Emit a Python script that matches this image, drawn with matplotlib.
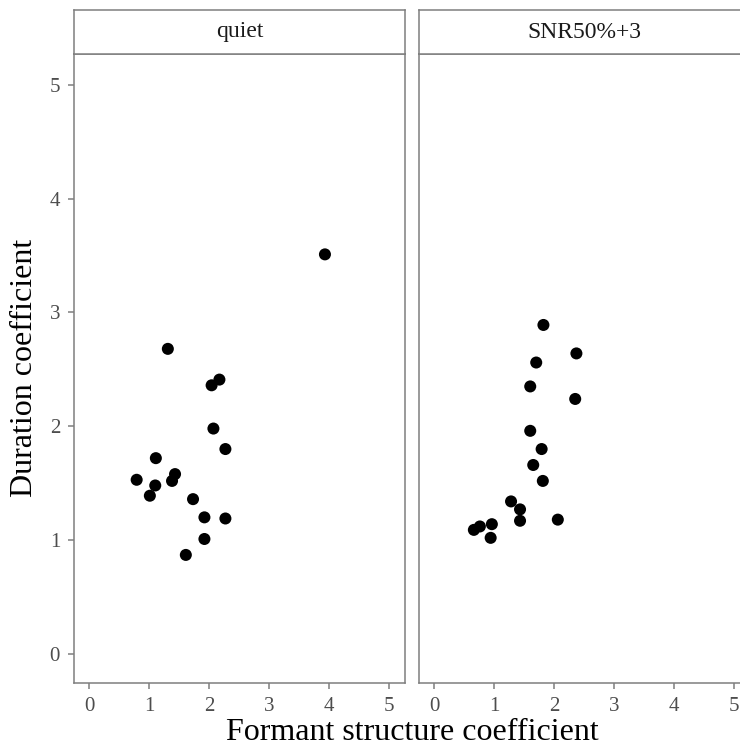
import matplotlib
matplotlib.use("Agg")
import matplotlib.pyplot as plt

plt.rcParams['font.family'] = ['Liberation Serif', 'DejaVu Serif']

panels = ['quiet', 'SNR50%+3']

quiet_x = [3.93, 1.31, 2.17, 2.04, 2.07, 2.27, 1.11, 0.79, 1.43, 1.38,
           1.10, 1.01, 1.73, 1.92, 2.27, 1.92, 1.61]
quiet_y = [3.51, 2.68, 2.41, 2.36, 1.98, 1.80, 1.72, 1.53, 1.58, 1.52,
           1.48, 1.39, 1.36, 1.20, 1.19, 1.01, 0.87]

snr_x = [1.82, 2.37, 1.70, 1.60, 2.35, 1.60, 1.79, 1.65, 1.81, 1.28,
         1.43, 1.43, 2.06, 0.96, 0.76, 0.66, 0.94]
snr_y = [2.89, 2.64, 2.56, 2.35, 2.24, 1.96, 1.80, 1.66, 1.52, 1.34,
         1.27, 1.17, 1.18, 1.14, 1.12, 1.09, 1.02]

ticks = [0, 1, 2, 3, 4, 5]
tick_labels = ['0', '1', '2', '3', '4', '5']

grey = '#7f7f7f'
label_grey = '#4d4d4d'

fig = plt.figure(figsize=(7.4, 7.49), dpi=100)

W, H = 740.0, 749.0
lefts = [74, 419]
pw = 331
top, bottom, strip_top = 54, 683, 10

data = [(quiet_x, quiet_y), (snr_x, snr_y)]

for i, (name, (xs, ys)) in enumerate(zip(panels, data)):
    l = lefts[i]
    ax = fig.add_axes([l / W, 1 - bottom / H, pw / W, (bottom - top) / H])
    ax.scatter(xs, ys, s=75, color='black', edgecolors='none', zorder=3)
    ax.set_xlim(-0.255, 5.265)
    ax.set_ylim(-0.255, 5.27)
    ax.set_xticks(ticks)
    ax.set_xticklabels(tick_labels)
    ax.set_yticks(ticks)
    if i == 0:
        ax.set_yticklabels(tick_labels)
    else:
        ax.tick_params(axis='y', left=False, labelleft=False)
    for sp in ax.spines.values():
        sp.set_color(grey)
        sp.set_linewidth(1.1)
    ax.tick_params(colors=grey, labelcolor=label_grey, labelsize=15,
                   length=4, width=1.1, pad=6)

    # strip on top
    sax = fig.add_axes([l / W, 1 - top / H, pw / W, (top - strip_top) / H])
    sax.set_xticks([])
    sax.set_yticks([])
    for sp in sax.spines.values():
        sp.set_color(grey)
        sp.set_linewidth(1.1)
    sax.text(0.5, 0.5, name, ha='center', va='center', fontsize=17,
             color='#1a1a1a', transform=sax.transAxes)

fig.text(25 / W, 1 - 368 / H, 'Duration coefficient', rotation=90,
         ha='center', va='center', fontsize=23)
fig.text(412 / W, 1 - 733 / H, 'Formant structure coefficient',
         ha='center', va='center', fontsize=23)

fig.savefig('out.png', dpi=100)
